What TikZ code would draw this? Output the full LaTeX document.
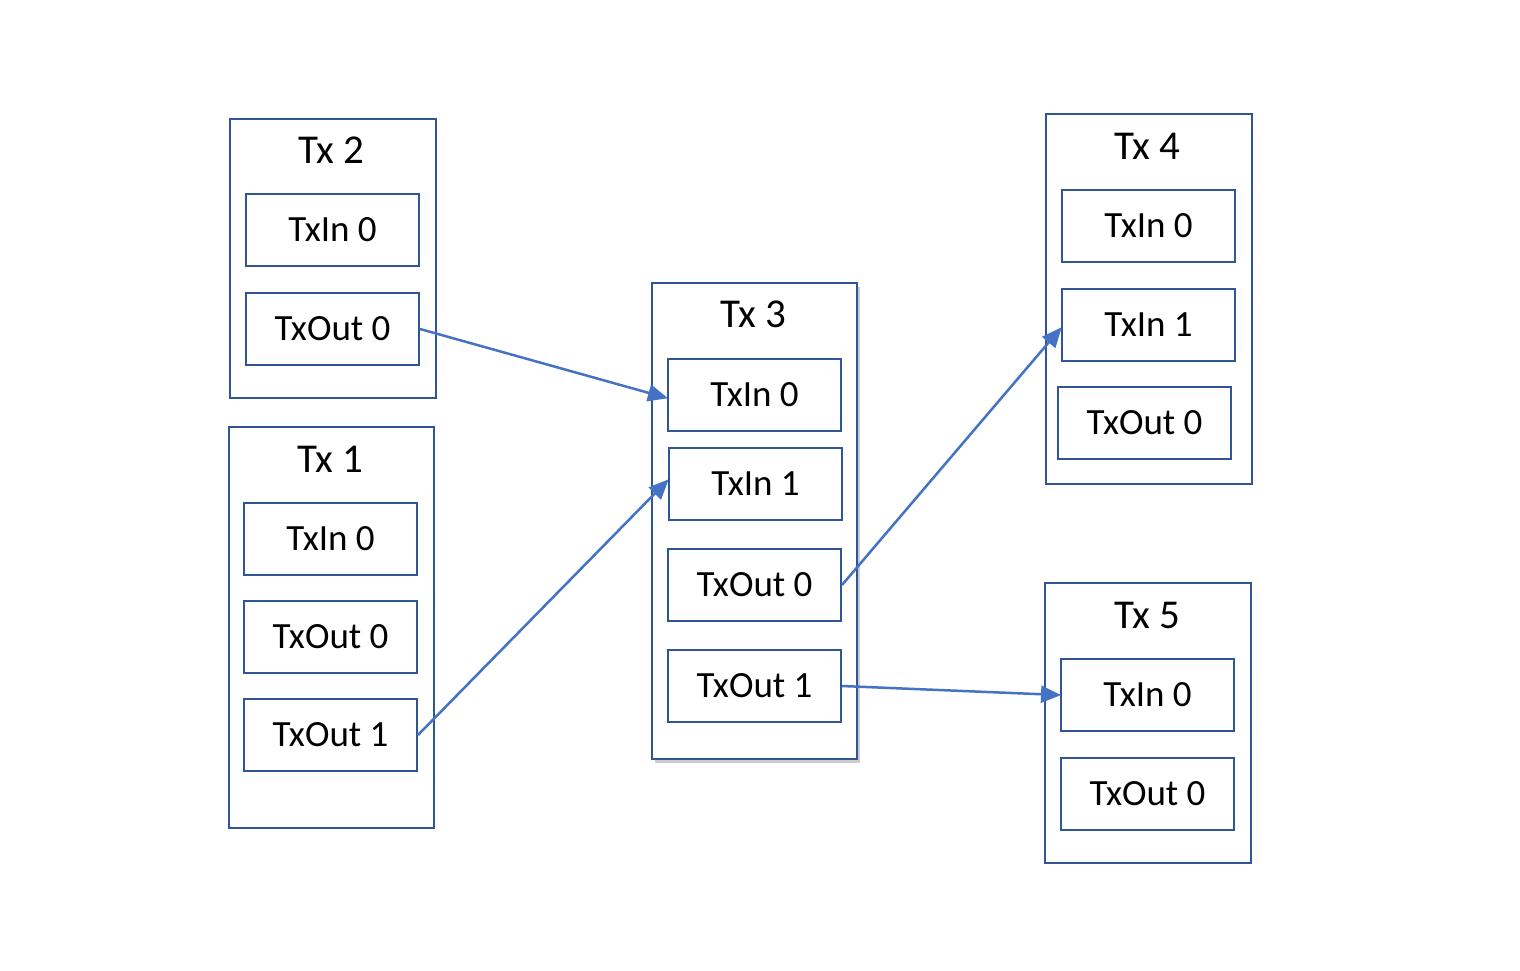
\documentclass[tikz,border=0pt]{standalone}
\usepackage{fontspec}
\setmainfont{Carlito}
\usetikzlibrary{shadows,arrows.meta}
\definecolor{boxblue}{HTML}{2F5597}
\definecolor{arrblue}{HTML}{4472C4}
\tikzset{
  txbox/.style={draw=boxblue, line width=2pt, fill=white, anchor=north west, inner sep=0pt},
  iobox/.style={draw=boxblue, line width=2pt, fill=white, anchor=north west, inner sep=0pt,
     minimum width=173pt, minimum height=72pt, font=\fontsize{37}{40}\selectfont},
  title/.style={font=\fontsize{41}{44}\selectfont, inner sep=0pt},
  link/.style={draw=arrblue, line width=2.5pt, -{Triangle[length=20pt,width=17pt]}, shorten >=-1pt}
}
\begin{document}
\begin{tikzpicture}[x=1pt,y=-1pt]
\useasboundingbox (0,0) rectangle (1520,970);
% Tx 2
\node[txbox, minimum width=206pt, minimum height=279pt] (tx2) at (229,118) {};
\node[title] (tx2t) at (331,150) {Tx 2};
\node[iobox] (tx2i0) at (245,193) {TxIn 0};
\node[iobox] (tx2o0) at (245,292) {TxOut 0};
% Tx 1
\node[txbox, minimum width=205pt, minimum height=401pt] (tx1) at (228,426) {};
\node[title] (tx1t) at (330,459) {Tx 1};
\node[iobox] (tx1i0) at (243,502) {TxIn 0};
\node[iobox] (tx1o0) at (243,600) {TxOut 0};
\node[iobox] (tx1o1) at (243,698) {TxOut 1};
% Tx 3
\node[txbox, minimum width=205pt, minimum height=476pt, drop shadow={shadow xshift=3pt, shadow yshift=-4pt, opacity=0.4}] (tx3) at (651,282) {};
\node[title] (tx3t) at (753,314) {Tx 3};
\node[iobox] (tx3i0) at (667,358) {TxIn 0};
\node[iobox] (tx3i1) at (668,447) {TxIn 1};
\node[iobox] (tx3o0) at (667,548) {TxOut 0};
\node[iobox] (tx3o1) at (667,649) {TxOut 1};
% Tx 4
\node[txbox, minimum width=206pt, minimum height=370pt] (tx4) at (1045,113) {};
\node[title] (tx4t) at (1147,146) {Tx 4};
\node[iobox] (tx4i0) at (1061,189) {TxIn 0};
\node[iobox] (tx4i1) at (1061,288) {TxIn 1};
\node[iobox] (tx4o0) at (1057,386) {TxOut 0};
% Tx 5
\node[txbox, minimum width=206pt, minimum height=280pt] (tx5) at (1044,582) {};
\node[title] (tx5t) at (1147,615) {Tx 5};
\node[iobox] (tx5i0) at (1060,658) {TxIn 0};
\node[iobox] (tx5o0) at (1060,757) {TxOut 0};
% links
\draw[link] (tx2o0.east) -- ([yshift=-3pt]tx3i0.west);
\draw[link] (tx1o1.east) -- ([yshift=4pt]tx3i1.west);
\draw[link] (tx3o0.east) -- ([yshift=-3pt]tx4i1.west);
\draw[link] (tx3o1.east) -- (tx5i0.west);
\end{tikzpicture}
\end{document}
